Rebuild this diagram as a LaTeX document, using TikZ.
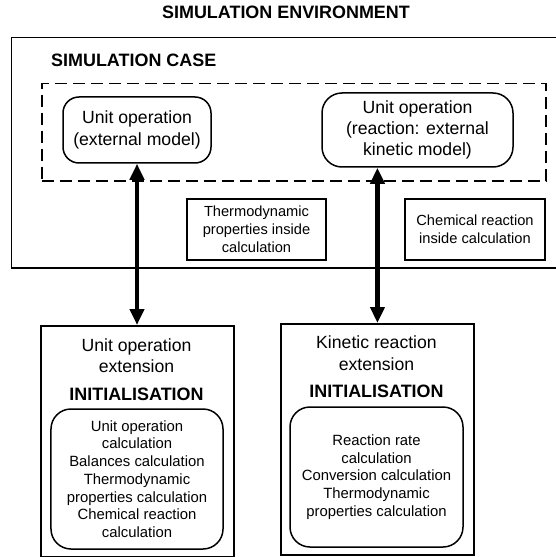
\documentclass[tikz,border=0pt]{standalone}
\usepackage{fontspec}
\setmainfont{Liberation Sans}
\usetikzlibrary{arrows.meta}
\begin{document}
\begin{tikzpicture}[x=1bp,y=-1bp,
  box/.style={draw, line width=1.5bp, inner sep=0pt, align=center},
  roundbox/.style={box, rounded corners=17bp},
  extbox/.style={draw, line width=1.9bp, inner sep=0pt, anchor=north west,
                 minimum width=193bp, minimum height=231bp},
  bodytext/.style={font=\fontsize{17.7}{21.5}\selectfont, align=center},
  smalltext/.style={font=\fontsize{14.7}{18.2}\selectfont, align=center},
  heading/.style={font=\bfseries\fontsize{18}{21}\selectfont, inner sep=0pt},
  biarrow/.style={line width=4.5bp,
                  {Triangle[length=16bp,width=14bp]}-{Triangle[length=16bp,width=14bp]}}
]
\useasboundingbox (0,0) rectangle (556,557);

% simulation environment and case
\node[heading] (envtitle) at (286,12.5) {SIMULATION ENVIRONMENT};
\node[box, anchor=north west, minimum width=547.5bp, minimum height=230bp] (env) at (10.5,37) {};
\node[heading, anchor=west] (casetitle) at (51,60) {SIMULATION CASE};
\node[draw, line width=1.5bp, dash pattern=on 12bp off 6bp, anchor=north west,
      minimum width=504bp, minimum height=97bp, inner sep=0pt] (case) at (41,83) {};

% unit operations inside the case
\node[roundbox, bodytext, minimum width=148bp, minimum height=66bp, rounded corners=16bp]
  (uo) at (137,130) {Unit operation\\(external model)};
\node[roundbox, bodytext, minimum width=191bp, minimum height=74bp, rounded corners=20bp]
  (uorx) at (417.5,130) {Unit operation\\(reaction: external\\kinetic model)};

% internal calculations
\node[box, smalltext, minimum width=139bp, minimum height=61bp]
  (thermo) at (256.5,229.5) {Thermodynamic\\properties inside\\calculation};
\node[box, smalltext, minimum width=140bp, minimum height=61bp]
  (chem) at (475,229.5) {Chemical reaction\\inside calculation};

% extensions
\node[extbox] (uoext) at (40,325) {};
\node[bodytext, inner sep=0pt] (uoextname) at (136.5,355.5) {Unit operation\\extension};
\node[heading] (uoinit) at (136.5,394) {INITIALISATION};
\node[roundbox, smalltext, minimum width=172bp, minimum height=140bp, rounded corners=20bp,
      font=\fontsize{14.9}{17.8}\selectfont]
  (uocalc) at (137,479) {Unit operation\\calculation\\Balances calculation\\Thermodynamic\\properties calculation\\Chemical reaction\\calculation};

\node[extbox] (kinext) at (280,323) {};
\node[bodytext, inner sep=0pt] (kinextname) at (376.5,353) {Kinetic reaction\\extension};
\node[heading] (kininit) at (376.5,391) {INITIALISATION};
\node[roundbox, smalltext, minimum width=173bp, minimum height=140bp, rounded corners=20bp,
      font=\fontsize{14.9}{17.8}\selectfont]
  (kincalc) at (376.5,477) {Reaction rate\\calculation\\Conversion calculation\\Thermodynamic\\properties calculation};

% data exchange between case and extensions
\draw[biarrow] (uo.south) -- (uo.south |- uoext.north);
\draw[biarrow] (kinext.north |- uorx.south) -- (kinext.north);
\end{tikzpicture}
\end{document}
